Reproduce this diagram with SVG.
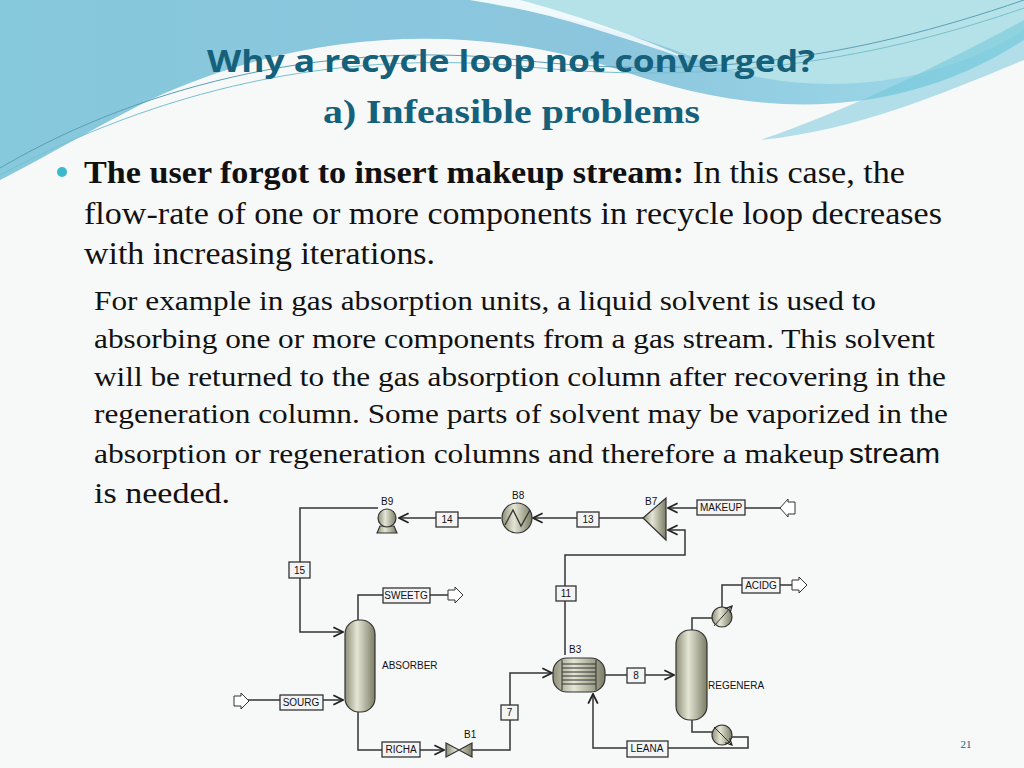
<svg xmlns="http://www.w3.org/2000/svg" width="1024" height="768" viewBox="0 0 1024 768">
<defs>
<linearGradient id="bg" x1="0" y1="0" x2="1" y2="0"><stop offset="0" stop-color="#86c8dc"/><stop offset="0.6" stop-color="#8cc6de"/><stop offset="1" stop-color="#9fdcea"/></linearGradient>
<linearGradient id="vessel" x1="0" y1="0" x2="1" y2="0"><stop offset="0" stop-color="#8e8f78"/><stop offset="0.4" stop-color="#e4e5d4"/><stop offset="1" stop-color="#7c7d66"/></linearGradient>
<marker id="ar" viewBox="0 0 10 10" refX="9" refY="5" markerWidth="8" markerHeight="8" orient="auto"><path d="M1,1 L9,5 L1,9" fill="none" stroke="#222" stroke-width="1.5"/></marker>
<style>
.t{font-family:"Liberation Serif",serif;fill:#111}
.ln{fill:none;stroke:#333;stroke-width:1.5}
.bx{fill:#f4f4f4;stroke:#333;stroke-width:1.3}
.lb{font-family:"Liberation Sans",Arial,sans-serif;font-size:10px;fill:#111;text-anchor:middle}
.ll{font-family:"Liberation Sans",Arial,sans-serif;font-size:10px;fill:#111}
.eq{fill:url(#vessel);stroke:#333;stroke-width:1.2}
</style>
</defs>
<rect width="1024" height="768" fill="#f7f8f8"/>
<path d="M0,0 H1024 V40 C900,120 760,120 620,70 C470,20 300,30 150,100 C90,130 40,160 0,180 Z" fill="url(#bg)"/>
<path d="M470,0 H1024 V30 C930,90 800,100 700,60 C600,20 520,10 470,0Z" fill="#b4e2e8"/>
<path d="M470,0 C540,10 600,30 690,60 C650,40 560,10 520,0Z" fill="#fff" opacity="0.8"/>
<path d="M0,168 C150,80 340,40 520,60 C700,80 850,60 1024,0" fill="none" stroke="#5aa0b8" stroke-width="1"/>
<path d="M0,175 C160,90 330,50 520,66 C700,85 860,65 1024,8" fill="none" stroke="#78c0d0" stroke-width="1"/>
<path d="M760,140 C850,110 950,60 1024,20 V60 C950,90 860,130 760,140Z" fill="#6cc4d8" opacity="0.5"/>
<text x="511" y="72" text-anchor="middle" font-family="'Open Sans','Liberation Sans',sans-serif" font-weight="bold" font-size="31" fill="#15607a" textLength="608" lengthAdjust="spacingAndGlyphs">Why a recycle loop not converged?</text>
<text x="323" y="123" class="t" font-weight="bold" font-size="34" style="fill:#15607a" textLength="377" lengthAdjust="spacingAndGlyphs">a) Infeasible problems</text>
<circle cx="62" cy="172" r="5" fill="#3cb8cc"/>
<text class="t" font-size="31" x="84" y="183" textLength="821" lengthAdjust="spacingAndGlyphs"><tspan font-weight="bold">The user forgot to insert makeup stream:</tspan> In this case, the</text>
<text class="t" font-size="31" x="84" y="224" textLength="858" lengthAdjust="spacingAndGlyphs">flow-rate of one or more components in recycle loop decreases</text>
<text class="t" font-size="31" x="84" y="264" textLength="351" lengthAdjust="spacingAndGlyphs">with increasing iterations.</text>
<text class="t" font-size="28" x="94" y="310" textLength="782" lengthAdjust="spacingAndGlyphs">For example in gas absorption units, a liquid solvent is used to</text>
<text class="t" font-size="28" x="94" y="348" textLength="841" lengthAdjust="spacingAndGlyphs">absorbing one or more components from a gas stream. This solvent</text>
<text class="t" font-size="28" x="94" y="386" textLength="852" lengthAdjust="spacingAndGlyphs">will be returned to the gas absorption column after recovering in the</text>
<text class="t" font-size="28" x="94" y="423" textLength="854" lengthAdjust="spacingAndGlyphs">regeneration column. Some parts of solvent may be vaporized in the</text>
<text class="t" font-size="28" x="94" y="463" textLength="750" lengthAdjust="spacingAndGlyphs">absorption or regeneration columns and therefore a makeup</text>
<text font-family="'Liberation Sans',sans-serif" font-size="28" fill="#111" x="849" y="463" textLength="91" lengthAdjust="spacingAndGlyphs">stream</text>
<text class="t" font-size="30" x="94" y="503" textLength="136" lengthAdjust="spacingAndGlyphs">is needed.</text>
<g id="connectors">
<path class="ln" d="M795,508 H668" marker-end="url(#ar)"/>
<path class="ln" d="M565,655 V555 H685 V530 H668" marker-end="url(#ar)"/>
<path class="ln" d="M643,518 H533" marker-end="url(#ar)"/>
<path class="ln" d="M501,518 H399" marker-end="url(#ar)"/>
<path class="ln" d="M378,508 H300 V632 H343" marker-end="url(#ar)"/>
<path class="ln" d="M358,620 V595 H448"/>
<path class="ln" d="M240,700 H343" marker-end="url(#ar)"/>
<path class="ln" d="M358,712 V750 H444" marker-end="url(#ar)"/>
<path class="ln" d="M472,750 H510 V673 H552" marker-end="url(#ar)"/>
<path class="ln" d="M605,675 H674" marker-end="url(#ar)"/>
<path class="ln" d="M692,630 V618 H712 M722,607 V585 H792"/>
<path class="ln" d="M692,720 V732 H712 M732,737 H748 V748 H593 V694" marker-end="url(#ar)"/>
</g>
<g id="makeup"><rect class="bx" x="697" y="500" width="48" height="15"/><text class="lb" x="721" y="511">MAKEUP</text><path d="M795,502 H788 V499 L780,508 L788,517 V514 H795Z" fill="#fff" stroke="#333"/></g>
<g id="b7"><path class="eq" d="M643,518 L666,498 V540Z"/><text class="ll" x="645" y="505">B7</text></g>
<g id="s13"><rect class="bx" x="577" y="512" width="22" height="15"/><text class="lb" x="588" y="523">13</text></g>
<g id="b8"><circle class="eq" cx="517" cy="518" r="15"/><path d="M505,525 L513,510 L521,526 L530,510" fill="none" stroke="#333" stroke-width="1.3"/><text class="ll" x="512" y="499">B8</text></g>
<g id="s14"><rect class="bx" x="436" y="512" width="22" height="15"/><text class="lb" x="447" y="523">14</text></g>
<g id="b9"><path class="eq" d="M377,533 L380,526 H394 L397,533Z"/><circle class="eq" cx="387" cy="518" r="9"/><text class="ll" x="381" y="505">B9</text></g>
<g id="s15"><rect class="bx" x="289" y="562" width="21" height="16"/><text class="lb" x="299.5" y="574">15</text></g>
<g id="absorber"><rect class="eq" x="345" y="620" width="30" height="92" rx="14"/><text class="ll" x="382" y="669">ABSORBER</text></g>
<g id="sweetg"><rect class="bx" x="383" y="588" width="47" height="15"/><text class="lb" x="406" y="599">SWEETG</text><path d="M448,590 H455 V587 L463,595 L455,603 V600 H448Z" fill="#fff" stroke="#333"/></g>
<g id="sourg"><rect class="bx" x="280" y="695" width="43" height="15"/><text class="lb" x="301" y="706">SOURG</text><path d="M234,696 H241 V693 L249,701 L241,709 V706 H234Z" fill="#fff" stroke="#333"/></g>
<g id="richa"><rect class="bx" x="382" y="742" width="38" height="15"/><text class="lb" x="401" y="753">RICHA</text></g>
<g id="b1"><path class="eq" d="M446,743 L472,757 V743 L446,757Z"/><text class="ll" x="464" y="738">B1</text></g>
<g id="s7"><rect class="bx" x="501" y="705" width="17" height="15"/><text class="lb" x="509.5" y="716">7</text></g>
<g id="b3"><rect class="eq" x="553" y="658" width="52" height="34" rx="14"/><path d="M562,660 V690 M596,660 V690 M562,664 H596 M562,668 H596 M562,672 H596 M562,676 H596 M562,680 H596 M562,684 H596" stroke="#333" stroke-width="1"/><text class="ll" x="569" y="653">B3</text></g>
<g id="s11"><rect class="bx" x="556" y="586" width="20" height="15"/><text class="lb" x="566" y="597">11</text></g>
<g id="s8"><rect class="bx" x="627" y="668" width="18" height="15"/><text class="lb" x="636" y="679">8</text></g>
<g id="regenera"><rect class="eq" x="676" y="630" width="31" height="90" rx="14"/><text class="ll" x="708" y="689">REGENERA</text></g>
<g id="cond"><circle class="eq" cx="722" cy="617" r="10"/><path d="M714,626 L732,606" stroke="#333" marker-end="url(#ar)"/></g>
<g id="reb"><circle class="eq" cx="722" cy="735" r="10"/><path d="M714,727 L732,745" stroke="#333" marker-end="url(#ar)"/></g>
<g id="acidg"><rect class="bx" x="742" y="578" width="38" height="15"/><text class="lb" x="761" y="589">ACIDG</text><path d="M792,580 H799 V577 L807,585 L799,593 V590 H792Z" fill="#fff" stroke="#333"/></g>
<g id="leana"><rect class="bx" x="627" y="741" width="41" height="16"/><text class="lb" x="647" y="752">LEANA</text></g>
<text x="966" y="748" text-anchor="middle" font-family="'Liberation Serif',serif" font-size="11" fill="#15607a">21</text>
</svg>
